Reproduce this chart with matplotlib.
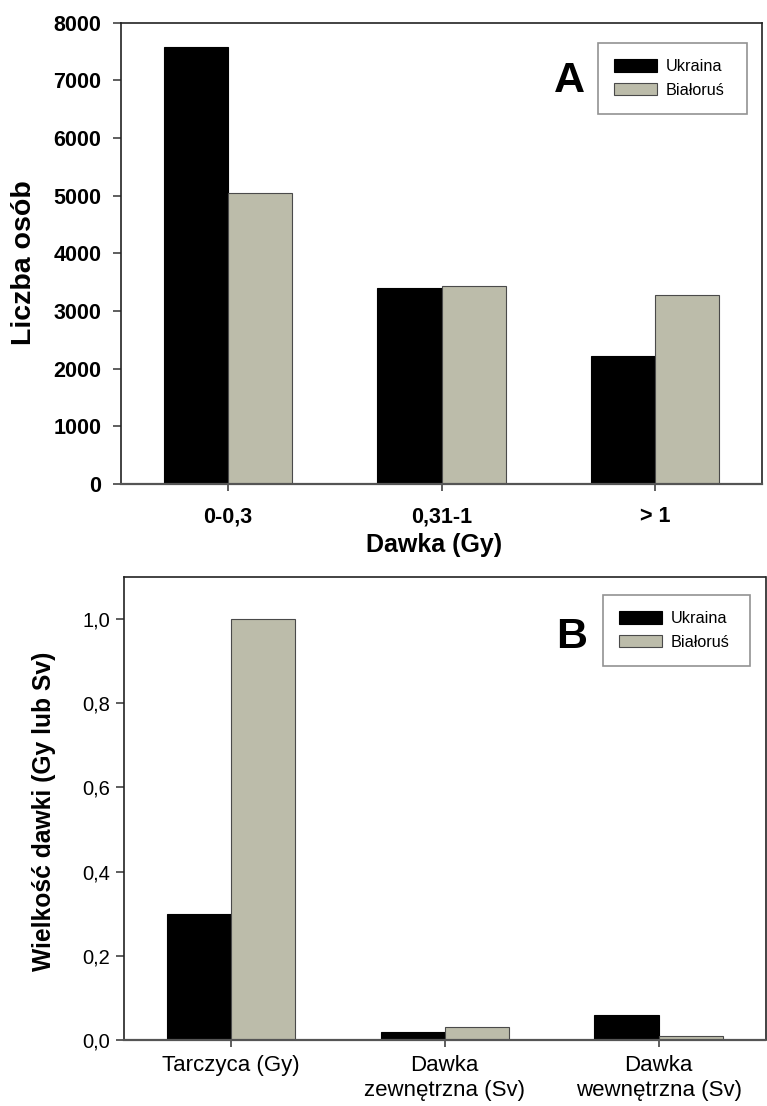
import matplotlib
matplotlib.use("Agg")
import matplotlib.pyplot as plt
import numpy as np

plt.rcParams['font.family'] = ['Liberation Sans', 'DejaVu Sans']

# Data
series_names = ["Ukraina", "Białoruś"]
cats_a = ["0-0,3", "0,31-1", "> 1"]
ukraina_a = [7580, 3400, 2220]
bialorus_a = [5040, 3440, 3270]
yticks_a = [0, 1000, 2000, 3000, 4000, 5000, 6000, 7000, 8000]

cats_b = ["Tarczyca (Gy)", "Dawka\nzewnętrzna (Sv)", "Dawka\nwewnętrzna (Sv)"]
ukraina_b = [0.30, 0.02, 0.06]
bialorus_b = [1.00, 0.03, 0.01]
yticks_b = [0.0, 0.2, 0.4, 0.6, 0.8, 1.0]
yticklabels_b = ["0,0", "0,2", "0,4", "0,6", "0,8", "1,0"]

W, H = 767, 1106
fig = plt.figure(figsize=(W / 100, H / 100), dpi=100)

BLACK = "#000000"
GRAY = "#bcbcaa"
EDGE = "#4a4a4a"
w = 0.3


def px_axes(l, t, r, b):
    return fig.add_axes([l / W, 1 - b / H, (r - l) / W, (b - t) / H])


def style(ax):
    for s in ax.spines.values():
        s.set_color("#222222")
        s.set_linewidth(1.2)
    ax.spines['bottom'].set_color("#555555")
    ax.spines['bottom'].set_linewidth(1.6)
    ax.tick_params(axis='both', direction='out', length=5, width=1.1, color="#333333")


def legend(ax, l, t, r, b):
    leg = ax.legend(loc='upper left', mode='expand',
                    bbox_to_anchor=(l / W, 1 - b / H, (r - l) / W, (b - t) / H),
                    bbox_transform=fig.transFigure, borderaxespad=0,
                    prop={'size': 11.7}, frameon=True, fancybox=False,
                    handlelength=2.6, handleheight=0.8, handletextpad=0.55,
                    borderpad=1.0, labelspacing=0.53)
    fr = leg.get_frame()
    fr.set_edgecolor("#777777")
    fr.set_linewidth(1.2)
    return leg


# Panel A
axA = px_axes(121, 22.7, 762, 484)
x = np.arange(len(cats_a))
axA.bar(x - w / 2, ukraina_a, w, color=BLACK, edgecolor=BLACK, linewidth=0.8, label=series_names[0])
axA.bar(x + w / 2, bialorus_a, w, color=GRAY, edgecolor=EDGE, linewidth=0.8, label=series_names[1])
axA.set_xlim(-0.5, 2.5)
axA.set_ylim(0, 8000)
axA.set_yticks(yticks_a)
axA.set_yticklabels([str(v) for v in yticks_a], fontsize=15.5, fontweight='bold')
axA.set_xticks(x)
axA.set_xticklabels(cats_a, fontsize=15.5, fontweight='bold')
style(axA)
axA.tick_params(axis='y', length=6, pad=8)
axA.tick_params(axis='x', pad=11)
axA.set_ylabel("Liczba osób", fontsize=20.5, fontweight='bold', va='center')
axA.yaxis.set_label_coords((24 - 121) / 641, (484 - 263) / 461.3)
axA.set_xlabel("Dawka (Gy)", fontsize=18, fontweight='bold', va='center')
axA.xaxis.set_label_coords((434 - 121) / 641, (484 - 545) / 461.3)
legend(axA, 598, 43, 747, 112)
fig.text(569 / W, 1 - 92.5 / H, "A", fontsize=31, fontweight='bold', ha='center', va='baseline')

# Panel B
axB = px_axes(124, 577, 765.5, 1040)
x = np.arange(len(cats_b))
axB.bar(x - w / 2, ukraina_b, w, color=BLACK, edgecolor=BLACK, linewidth=0.8, label=series_names[0])
axB.bar(x + w / 2, bialorus_b, w, color=GRAY, edgecolor=EDGE, linewidth=0.8, label=series_names[1])
axB.set_xlim(-0.5, 2.5)
axB.set_ylim(0, 1.1)
axB.set_yticks(yticks_b)
axB.set_yticklabels(yticklabels_b, fontsize=14.5)
axB.set_xticks(x)
axB.set_xticklabels(cats_b, fontsize=16, linespacing=1.25)
style(axB)
axB.tick_params(axis='y', length=6, pad=4)
axB.tick_params(axis='x', pad=6)
axB.set_ylabel("Wielkość dawki (Gy lub Sv)", fontsize=17.7, fontweight='bold', va='center')
axB.yaxis.set_label_coords((44 - 124) / 641.5, (1040 - 811.6) / 463)
legend(axB, 603, 595, 750, 665.6)
fig.text(572 / W, 1 - 647.6 / H, "B", fontsize=31, fontweight='bold', ha='center', va='baseline')

fig.savefig("out.png", dpi=100)
